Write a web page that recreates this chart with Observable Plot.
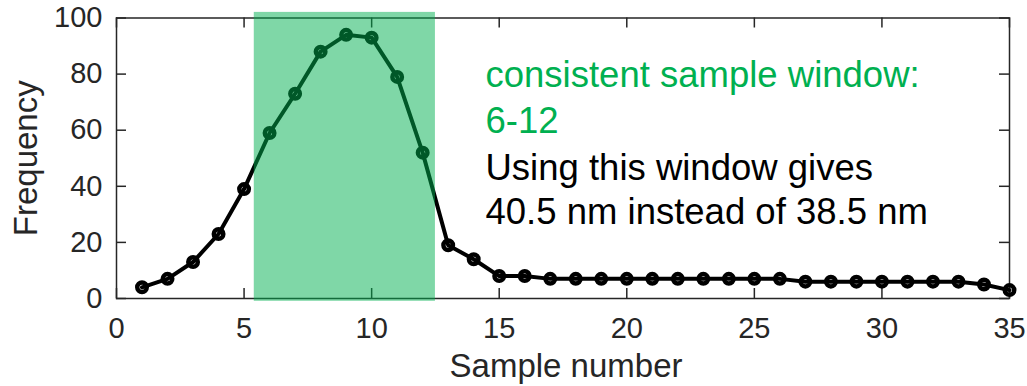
<!DOCTYPE html>
<html>
<head>
<meta charset="utf-8">
<script src="https://cdn.jsdelivr.net/npm/d3@7"></script>
<script src="https://cdn.jsdelivr.net/npm/@observablehq/plot@0.6"></script>
<style>
  html, body { margin: 0; padding: 0; background: #fff; }
</style>
</head>
<body>
<div id="chart"></div>
<script>
// ---- data ----
const sampleNumber = [1,2,3,4,5,6,7,8,9,10,11,12,13,14,15,16,17,18,19,20,21,22,23,24,25,26,27,28,29,30,31,32,33,34,35];
const frequency    = [4,7,13,23,39,59,73,88,94,93,79,52,19,14,8,8,7,7,7,7,7,7,7,7,7,7,6,6,6,6,6,6,6,5,3];
const xTicks = [0,5,10,15,20,25,30,35];
const yTicks = [0,20,40,60,80,100];
const windowX = [5.4, 12.5];
const windowY = [-1, 102];
const greenLines = ["consistent sample window:", "6-12"];
const blackLines = ["Using this window gives", "40.5 nm instead of 38.5 nm"];
const xLabel = "Sample number";
const yLabel = "Frequency";

const data = sampleNumber.map((s, i) => ({sample: s, freq: frequency[i]}));
const AX = "#262626";
const GREEN = "#00B050";

const W = 1027, H = 386, ML = 116, MR = 18, MT = 17.5, MB = 88;
const TICK = 10;
const plotW = W - ML - MR, plotH = H - MT - MB;
const tickStyle = {stroke: AX, strokeWidth: 1.5};

const chart = Plot.plot({
  width: W,
  height: H,
  marginLeft: ML,
  marginRight: MR,
  marginTop: MT,
  marginBottom: MB,
  style: {fontFamily: "'Liberation Sans', Arial, Helvetica, sans-serif", background: "#fff", color: AX},
  x: {domain: [0, 35]},
  y: {domain: [0, 100]},
  marks: [
    Plot.frame({stroke: AX, strokeWidth: 1.5}),
    Plot.axisX(xTicks, {anchor: "bottom", tickSize: 0, tickPadding: 19, fontSize: 29, color: AX, label: null}),
    Plot.axisY(yTicks, {anchor: "left", tickSize: 0, tickPadding: 14, fontSize: 29, color: AX, label: null}),
    // inward ticks on all four sides
    Plot.tickX(xTicks, {x: d => d, insetTop: plotH - TICK, ...tickStyle}),
    Plot.tickX(xTicks, {x: d => d, insetBottom: plotH - TICK, ...tickStyle}),
    Plot.tickY(yTicks, {y: d => d, insetRight: plotW - TICK, ...tickStyle}),
    Plot.tickY(yTicks, {y: d => d, insetLeft: plotW - TICK, ...tickStyle}),
    Plot.line(data, {x: "sample", y: "freq", stroke: "black", strokeWidth: 4}),
    Plot.dot(data, {x: "sample", y: "freq", r: 4.75, stroke: "black", strokeWidth: 4.5, fill: "none"}),
    Plot.rect([0], {x1: () => windowX[0], x2: () => windowX[1], y1: () => windowY[0], y2: () => windowY[1], fill: GREEN, fillOpacity: 0.5}),
    Plot.text([greenLines.join("\n")], {frameAnchor: "top-left", dx: 369, dy: 36, lineAnchor: "top", textAnchor: "start", lineHeight: 1.27, fontSize: 36.5, fill: GREEN}),
    Plot.text([blackLines.join("\n")], {frameAnchor: "top-left", dx: 369, dy: 131, lineAnchor: "top", textAnchor: "start", lineHeight: 1.2, fontSize: 36.5, fill: "black"}),
    Plot.text([xLabel], {frameAnchor: "bottom", dx: 3, dy: 55, lineAnchor: "top", textAnchor: "middle", fontSize: 33, fill: AX}),
    Plot.text([yLabel], {frameAnchor: "left", dx: -90, rotate: -90, lineAnchor: "middle", textAnchor: "middle", fontSize: 33, fill: AX})
  ]
});
document.getElementById("chart").appendChild(chart);
</script>
</body>
</html>
